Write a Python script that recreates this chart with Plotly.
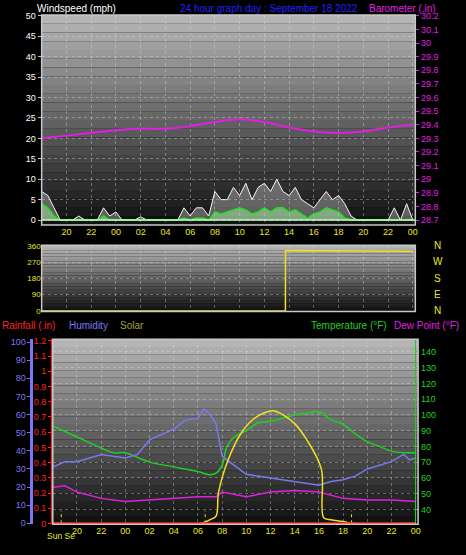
import plotly.graph_objects as go

# --- data -------------------------------------------------------------
# hours since 00:00 of Sept 17 (18 = 18:00 previous day, 48 = midnight)
wind_hours = [18 + 0.5 * i for i in range(61)]
wind_gust = [7, 6, 3, 0, 0, 0, 1, 0, 0, 0, 3, 1, 2, 0, 0, 0, 0.8, 0, 0, 0,
             0, 0, 0, 3, 1, 3, 3, 1, 7, 5, 5, 8, 6, 9, 5, 8, 9, 7, 10, 7,
             6, 8, 5, 4, 3, 5, 7, 5, 6, 4, 1, 0, 0, 0, 0, 0, 0, 3, 0, 4, 0]
wind_avg = [4, 3, 1, 0, 0, 0, 0, 0, 0, 0, 1, 0, 0, 0, 0, 0, 0, 0, 0, 0,
            0, 0, 0, 0.5, 0, 0.5, 0.5, 0, 2, 1.5, 2, 2.5, 3, 2.5, 1.5, 2, 3, 2, 3, 3,
            2, 2.5, 1.5, 0.5, 1.5, 2, 3, 2.5, 2, 0.5, 0, 0, 0, 0, 0, 0, 0, 0, 0, 0, 0]

baro_hours = [18, 20, 22, 24, 26, 28, 30, 32, 34, 36, 38, 40, 42, 44, 46, 48]
baro_in = [29.30, 29.32, 29.34, 29.36, 29.37, 29.37, 29.39, 29.42, 29.44,
           29.42, 29.38, 29.35, 29.34, 29.35, 29.38, 29.40]

dir_hours = [18, 37.7, 37.71, 40, 44, 48]
dir_deg = [0, 0, 335, 333, 330, 330]

temp_hours = [18, 20, 22, 23, 24, 25, 26, 28, 30, 31, 31.5, 32, 32.4, 33, 34, 35,
              36, 37, 38, 39, 40, 41, 42, 43, 44, 45, 46, 47, 48]
temp_f = [93, 86, 79, 76, 76, 73, 70, 67, 64, 62, 63, 68, 80, 86, 90, 95,
          96, 98, 100, 101, 102, 97, 94, 88, 83, 80, 77, 76, 76]

hum_hours = [18, 19, 20, 22, 24, 25, 26, 28, 29, 30, 30.5, 31, 31.5, 32, 33, 34,
             36, 38, 40, 41, 42, 43, 44, 46, 47, 47.5, 48]
humidity = [31, 34, 34, 38, 36, 38, 46, 52, 57, 58, 63, 60, 55, 37, 32, 27,
            25, 23, 21, 23, 24, 26, 30, 34, 38, 35, 36]

dew_hours = [18, 19, 20, 22, 24, 26, 28, 30, 31.5, 32, 34, 36, 38, 40, 42, 44, 46, 48]
dew_f = [54, 55, 51, 47, 45, 46, 47, 48, 48, 51, 48, 51, 52, 51, 47, 46, 46, 45]

solar_hours = [18, 30.3, 31, 31.5, 31.7, 32.5, 33.5, 34.5, 35.5, 36.3, 37, 38,
               39, 40.2, 40.4, 41, 42, 42.7, 48]
solar_pct = [0, 0, 2, 4, 17, 35, 49, 57, 61, 62, 60, 55,
             46, 30, 3, 2, 1, 0, 0]

rain_hours = [18, 48]
rain_in = [0, 0]

sun_marks = [18.7, 30.6, 42.7]

tick_hours = list(range(20, 49, 2))
tick_text = ["%02d" % (h % 24) for h in tick_hours]

# --- figure -----------------------------------------------------------
fig = go.Figure()

fig.add_trace(go.Scatter(x=wind_hours, y=wind_gust, mode="lines", line=dict(color="#f4f4f4", width=1),
                         fill="tozeroy", fillcolor="rgba(230,230,230,0.35)", xaxis="x", yaxis="y"))
fig.add_trace(go.Scatter(x=wind_hours, y=wind_avg, mode="lines", line=dict(color="#20e020", width=1.5),
                         fill="tozeroy", fillcolor="rgba(170,240,170,0.5)", xaxis="x", yaxis="y"))
fig.add_trace(go.Scatter(x=[18, 48.2], y=[0, 0], mode="lines", line=dict(color="#c0ffc0", width=1.5),
                         xaxis="x", yaxis="y"))
fig.add_trace(go.Scatter(x=baro_hours, y=baro_in, mode="lines", line=dict(color="#e020e0", width=2, shape="spline"),
                         xaxis="x", yaxis="y2"))

fig.add_trace(go.Scatter(x=dir_hours, y=dir_deg, mode="lines", line=dict(color="#f0e020", width=1.5),
                         xaxis="x2", yaxis="y3"))

fig.add_trace(go.Scatter(x=temp_hours, y=temp_f, mode="lines", line=dict(color="#20d020", width=1.5, shape="spline"),
                         xaxis="x3", yaxis="y4"))
fig.add_trace(go.Scatter(x=dew_hours, y=dew_f, mode="lines", line=dict(color="#e020e0", width=1.5),
                         xaxis="x3", yaxis="y4"))
fig.add_trace(go.Scatter(x=hum_hours, y=humidity, mode="lines", line=dict(color="#7878f0", width=1.5),
                         xaxis="x3", yaxis="y5"))
fig.add_trace(go.Scatter(x=solar_hours, y=solar_pct, mode="lines", line=dict(color="#f0e020", width=1.5, shape="spline"),
                         xaxis="x3", yaxis="y5"))
for h in sun_marks:
    fig.add_trace(go.Scatter(x=[h, h], y=[0, 7], mode="lines", line=dict(color="#f0e020", width=1, dash="dot"),
                             xaxis="x3", yaxis="y5"))
fig.add_trace(go.Scatter(x=rain_hours, y=rain_in, mode="lines", line=dict(color="#ff2020", width=2.5),
                         xaxis="x3", yaxis="y6"))

# grey gradient backgrounds
shapes = []
panels = [("x", "y", 0.596, 0.980), ("x2", "y3", 0.438, 0.559), ("x3", "y4", 0.049, 0.387)]
n = 24
for xa, ya, y0, y1 in panels:
    for i in range(n):
        v = int(15 + (185 - 15) * (i + 0.5) / n)
        shapes.append(dict(type="rect", xref=xa + " domain", yref=ya + " domain",
                           x0=0, x1=1, y0=i / n, y1=(i + 1) / n, line_width=0,
                           fillcolor="rgb(%d,%d,%d)" % (v, v, v), layer="below"))
    shapes.append(dict(type="rect", xref=xa + " domain", yref=ya + " domain", x0=0, x1=1, y0=0, y1=1,
                       line=dict(color="#c8c8c8", width=1.5)))

font = "Liberation Sans"
grid = dict(showgrid=True, gridcolor="rgba(230,230,230,0.35)", griddash="dot", gridwidth=1, zeroline=False)
xcommon = dict(range=[18, 48.2], tickvals=tick_hours, ticktext=tick_text, tickfont=dict(color="#e8e820", size=9),
               ticks="", **grid)

fig.update_layout(
    width=466, height=555, margin=dict(l=0, r=0, t=0, b=0),
    paper_bgcolor="black", plot_bgcolor="black", showlegend=False,
    font=dict(family=font, size=9),
    shapes=shapes,
    xaxis=dict(domain=[0.090, 0.897], anchor="y", **xcommon),
    yaxis=dict(domain=[0.596, 0.980], range=[-1.2, 50.2], dtick=5, tickfont=dict(color="white", size=9),
               ticks="outside", ticklen=3, tickcolor="#c0c0c0", **grid),
    yaxis2=dict(overlaying="y", side="right", anchor="x", range=[28.664, 30.206], dtick=0.1,
                tickfont=dict(color="#e020e0", size=9), ticks="outside", ticklen=3, tickcolor="#e020e0",
                showline=True, linecolor="#e020e0", showgrid=False, zeroline=False),
    xaxis2=dict(domain=[0.090, 0.897], anchor="y3", showticklabels=False, range=[18, 48.2],
                tickvals=tick_hours, **grid),
    yaxis3=dict(domain=[0.438, 0.559], range=[-3, 364], tickvals=[0, 90, 180, 270, 360],
                tickfont=dict(color="#e8e820", size=8), **grid),
    xaxis3=dict(domain=[0.114, 0.903], anchor="y4", **xcommon),
    yaxis4=dict(domain=[0.049, 0.387], side="right", range=[30.6, 148], tickvals=list(range(40, 141, 10)),
                tickfont=dict(color="#20d020", size=9), ticks="outside", ticklen=3, tickcolor="#20d020",
                showline=True, linecolor="#20d020", **grid),
    yaxis5=dict(overlaying="y4", anchor="free", position=0.068, side="left", range=[-0.5, 101.5], dtick=10,
                tickfont=dict(color="#7878f0", size=9), showline=True, linecolor="#7878f0", linewidth=3,
                ticks="outside", ticklen=3, tickcolor="#7878f0", showgrid=False, zeroline=False),
    yaxis6=dict(overlaying="y4", anchor="x3", side="left", range=[-0.005, 1.21], dtick=0.1,
                tickfont=dict(color="#ff2020", size=9), showline=True, linecolor="#ff2020", linewidth=1.5,
                ticks="outside", ticklen=3, tickcolor="#ff2020", showgrid=False, zeroline=False),
)

def label(text, x, y, color, anchor="left", size=10):
    fig.add_annotation(text=text, x=x, y=y, xref="paper", yref="paper", xanchor=anchor, yanchor="middle",
                       showarrow=False, font=dict(color=color, size=size, family=font))

label("Windspeed (mph)", 0.075, 0.991, "white")
label("24 hour graph day : September 18 2022", 0.58, 0.991, "#2020ff", anchor="center")
label("Barometer (.in)", 0.945, 0.991, "#e020e0", anchor="right")
for txt, yy in [("N", 0.558), ("W", 0.529), ("S", 0.499), ("E", 0.469), ("N", 0.440)]:
    label(txt, 0.945, yy, "#e8e820", anchor="center")
label("Rainfall (.in)", 0.0, 0.412, "#ff2020")
label("Humidity", 0.145, 0.412, "#7878f0")
label("Solar", 0.255, 0.412, "#a0a040")
label("Temperature (°F)", 0.668, 0.412, "#20d020")
label("Dew Point (°F)", 0.995, 0.412, "#e020e0", anchor="right")
label("Sun Se", 0.098, 0.027, "#e8e820", size=8.5)

fig.write_html("out.html", config={"displayModeBar": False})

# drop the default page margin so the figure fills the window
with open("out.html", encoding="utf-8") as f:
    page = f.read()
page = page.replace("<head>", "<head><style>body{margin:0;background:black;}</style>", 1)
with open("out.html", "w", encoding="utf-8") as f:
    f.write(page)
